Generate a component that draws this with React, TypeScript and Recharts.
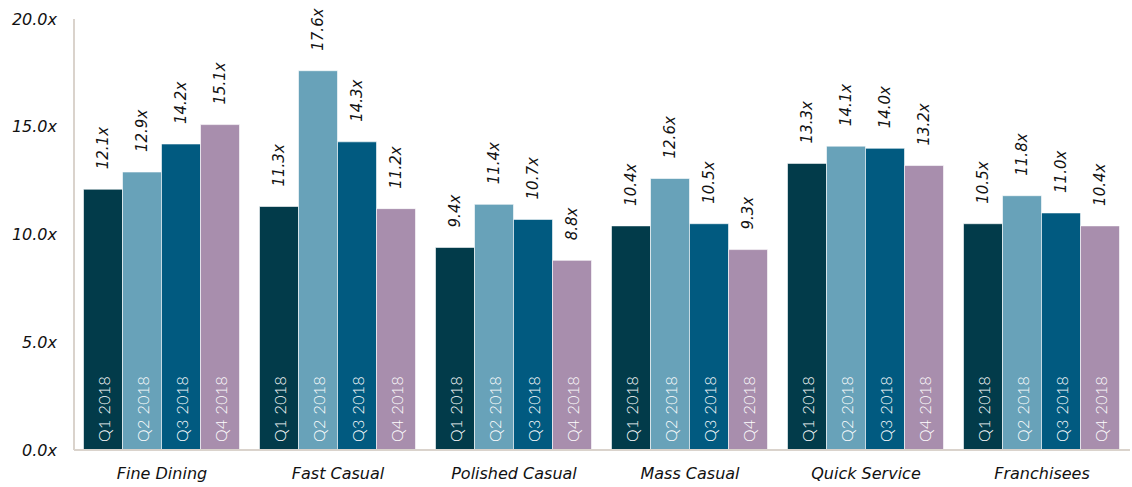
import React from "react";
import { BarChart, Bar, XAxis, YAxis, LabelList } from "recharts";

const categories = ["Fine Dining", "Fast Casual", "Polished Casual", "Mass Casual", "Quick Service", "Franchisees"];
const q1 = [12.1, 11.3, 9.4, 10.4, 13.3, 10.5];
const q2 = [12.9, 17.6, 11.4, 12.6, 14.1, 11.8];
const q3 = [14.2, 14.3, 10.7, 10.5, 14.0, 11.0];
const q4 = [15.1, 11.2, 8.8, 9.3, 13.2, 10.4];
const seriesNames = ["Q1 2018", "Q2 2018", "Q3 2018", "Q4 2018"];
const yTicks = [0, 5, 10, 15, 20];

const colors = ["#023B4A", "#68A2B9", "#015A80", "#A88EAD"];
const keys = ["q1", "q2", "q3", "q4"];

const data = categories.map((c, i) => ({ name: c, q1: q1[i], q2: q2[i], q3: q3[i], q4: q4[i] }));

const FONT = "'DejaVu Sans', Verdana, sans-serif";

const ValueLabel = (props: any) => {
  const { x, y, width, value } = props;
  const cx = x + width / 2;
  const ty = y - 20;
  return (
    <text
      x={cx}
      y={ty}
      transform={`rotate(-90, ${cx}, ${ty})`}
      textAnchor="start"
      dominantBaseline="central"
      fontFamily={FONT}
      fontStyle="italic"
      fontSize={15}
      fill="#111"
    >
      {value.toFixed(1) + "x"}
    </text>
  );
};

const makeInner = (label: string) => (props: any) => {
  const { x, y, width, height } = props;
  const cx = x + width / 2;
  const ty = y + height - 8;
  return (
    <text
      x={cx}
      y={ty}
      transform={`rotate(-90, ${cx}, ${ty})`}
      textAnchor="start"
      dominantBaseline="central"
      fontFamily="Lato, sans-serif"
      fontWeight={300}
      fontSize={16}
      letterSpacing={0.4}
      fill="#fff"
    >
      {label}
    </text>
  );
};

export default function App() {
  return (
    <div style={{ position: "absolute", left: 0, top: 0, background: "#fff" }}>
      <BarChart
        width={1132}
        height={487}
        data={data}
        margin={{ top: 19, right: 2, bottom: 0, left: 0 }}
        barCategoryGap="5.4%"
        barGap={0}
      >
        <YAxis
          width={74}
          domain={[0, 20]}
          ticks={yTicks}
          tickFormatter={(v: number) => v.toFixed(1) + "x"}
          axisLine={{ stroke: "#DAD3CC", strokeWidth: 2 }}
          tickLine={false}
          tickSize={0}
          tickMargin={17}
          tick={{ fontFamily: FONT, fontStyle: "italic", fontSize: 16, fill: "#111" }}
        />
        <XAxis
          dataKey="name"
          height={37}
          axisLine={{ stroke: "#DAD3CC", strokeWidth: 2 }}
          tickLine={false}
          tickSize={0}
          tickMargin={18}
          interval={0}
          tick={{ fontFamily: FONT, fontStyle: "italic", fontSize: 16, fill: "#111" }}
        />
        {keys.map((k, i) => (
          <Bar key={k} dataKey={k} fill={colors[i]} stroke="#ffffff" strokeWidth={0.6} isAnimationActive={false}>
            <LabelList dataKey={k} content={ValueLabel} />
            <LabelList dataKey={k} content={makeInner(seriesNames[i])} />
          </Bar>
        ))}
      </BarChart>
    </div>
  );
}
